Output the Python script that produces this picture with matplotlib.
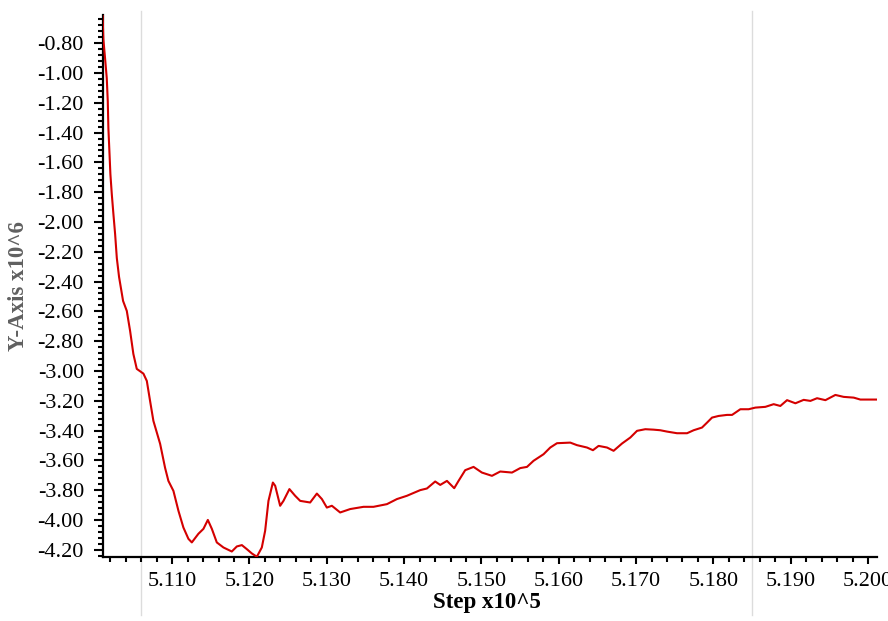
import matplotlib
matplotlib.use("Agg")
import matplotlib.pyplot as plt
from matplotlib.ticker import MultipleLocator, FormatStrFormatter

plt.rcParams['font.family'] = ['Liberation Serif', 'DejaVu Serif']
plt.rcParams['axes.unicode_minus'] = False

# step (x10^5) and value (x10^6)
step = [5.10100, 5.10111, 5.10133, 5.10155, 5.10168, 5.10176, 5.10189, 5.10202,
        5.10220, 5.10241, 5.10263, 5.10285, 5.10314, 5.10366, 5.10414, 5.10457,
        5.10499, 5.10543, 5.10629, 5.10673, 5.10715, 5.10758, 5.10845, 5.10909,
        5.10952, 5.11017, 5.11082, 5.11146, 5.11211, 5.11255, 5.11340, 5.11405,
        5.11462, 5.11514, 5.11578, 5.11664, 5.11772, 5.11837, 5.11902, 5.11966,
        5.12031, 5.12096, 5.12160, 5.12203, 5.12246, 5.12268, 5.12303, 5.12333,
        5.12397, 5.12440, 5.12517, 5.12591, 5.12656, 5.12785, 5.12872, 5.12937,
        5.13001, 5.13066, 5.13173, 5.13303, 5.13475, 5.13604, 5.13778, 5.13907,
        5.14036, 5.14208, 5.14295, 5.14402, 5.14467, 5.14554, 5.14648, 5.14704,
        5.14790, 5.14898, 5.15006, 5.15136, 5.15243, 5.15395, 5.15502, 5.15589,
        5.15674, 5.15803, 5.15890, 5.15977, 5.16149, 5.16235, 5.16365, 5.16442,
        5.16515, 5.16624, 5.16709, 5.16818, 5.16925, 5.17012, 5.17119, 5.17226,
        5.17313, 5.17400, 5.17529, 5.17659, 5.17744, 5.17852, 5.17917, 5.17982,
        5.18067, 5.18176, 5.18241, 5.18348, 5.18455, 5.18542, 5.18671, 5.18779,
        5.18865, 5.18952, 5.19060, 5.19167, 5.19254, 5.19340, 5.19448, 5.19577,
        5.19684, 5.19814, 5.19900, 5.20029, 5.20116]
value = [-0.600, -0.773, -0.901, -1.035, -1.189, -1.370, -1.524, -1.679,
         -1.813, -1.947, -2.081, -2.242, -2.369, -2.530, -2.597, -2.732,
         -2.886, -2.986, -3.018, -3.067, -3.201, -3.335, -3.489, -3.650,
         -3.738, -3.805, -3.939, -4.051, -4.127, -4.151, -4.093, -4.060,
         -4.000, -4.060, -4.151, -4.185, -4.212, -4.178, -4.169, -4.196,
         -4.225, -4.247, -4.185, -4.073, -3.872, -3.825, -3.749, -3.771,
         -3.905, -3.872, -3.793, -3.838, -3.872, -3.883, -3.823, -3.860,
         -3.917, -3.905, -3.950, -3.927, -3.912, -3.912, -3.894, -3.860,
         -3.838, -3.800, -3.789, -3.742, -3.765, -3.738, -3.787, -3.738,
         -3.666, -3.644, -3.682, -3.704, -3.675, -3.682, -3.652, -3.644,
         -3.603, -3.559, -3.514, -3.485, -3.481, -3.498, -3.514, -3.532,
         -3.503, -3.514, -3.536, -3.487, -3.447, -3.402, -3.391, -3.394,
         -3.398, -3.407, -3.418, -3.418, -3.398, -3.380, -3.347, -3.313,
         -3.302, -3.295, -3.295, -3.257, -3.257, -3.246, -3.241, -3.223,
         -3.235, -3.196, -3.217, -3.194, -3.201, -3.183, -3.196, -3.161,
         -3.174, -3.179, -3.192, -3.192, -3.192]

marker_steps = [5.10595, 5.18500]

fig = plt.figure(figsize=(8.88, 6.21), dpi=100)
ax = fig.add_axes([0.1157, 0.1035, 0.8719, 0.8725])

ax.plot(step, value, color='#d40000', lw=1.5, zorder=3)

for s in marker_steps:
    ax.axvline(s, ymin=-0.107, ymax=1.008, color='#dcdcdc', lw=1.0,
               clip_on=False, zorder=0)

ax.set_xlim(5.10103, 5.20115)
ax.set_ylim(-4.247, -0.61)

ax.xaxis.set_major_locator(MultipleLocator(0.01))
ax.xaxis.set_minor_locator(MultipleLocator(0.002))
ax.yaxis.set_major_locator(MultipleLocator(0.2))
ax.yaxis.set_minor_locator(MultipleLocator(0.04))
ax.xaxis.set_major_formatter(FormatStrFormatter('%.3f'))
ax.yaxis.set_major_formatter(FormatStrFormatter('%.2f'))

for side in ['top', 'right']:
    ax.spines[side].set_visible(False)
for side in ['left', 'bottom']:
    ax.spines[side].set_linewidth(1.6)

ax.tick_params(axis='both', which='major', labelsize=16, width=1.5, color='black')
ax.tick_params(axis='y', which='major', length=6.5, pad=7)
ax.tick_params(axis='x', which='major', length=5, pad=6)
ax.tick_params(axis='both', which='minor', length=3.5, width=1.5)

fig.text(0.548, 0.029, 'Step x10^5', ha='center', va='center',
         fontsize=16.5, fontweight='bold')
fig.text(0.021, 0.54, 'Y-Axis x10^6', ha='center', va='center',
         rotation=90, fontsize=16.5, fontweight='bold', color='#606060')

fig.savefig('out.png', dpi=100)
